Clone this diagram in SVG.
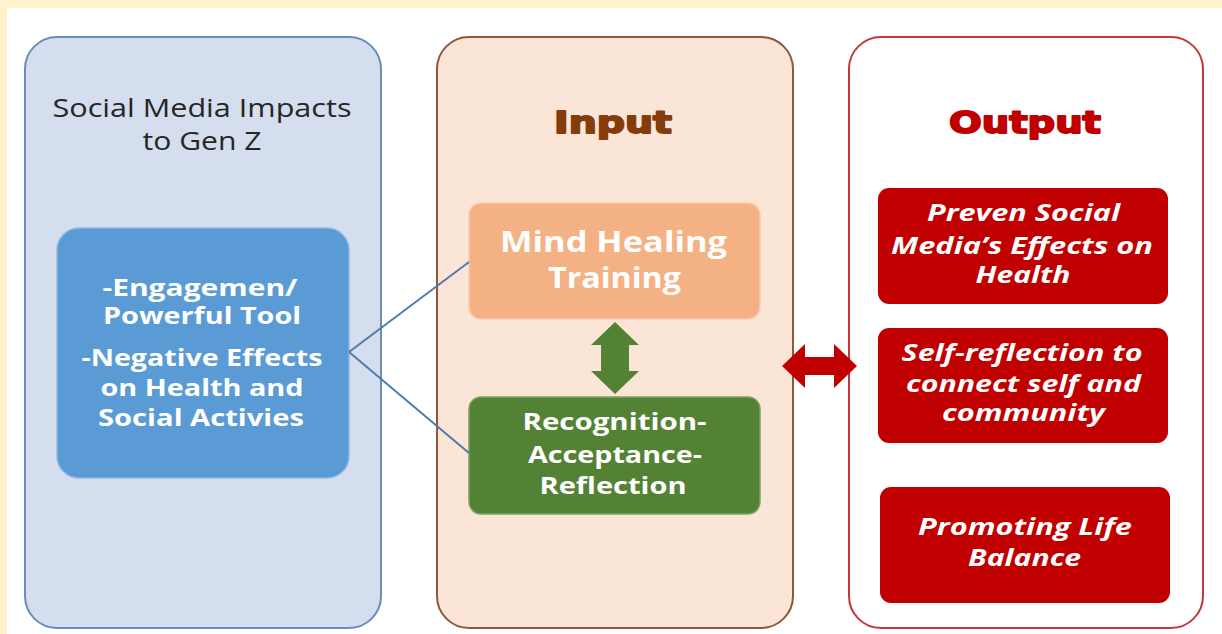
<svg xmlns="http://www.w3.org/2000/svg" width="1222" height="634" viewBox="0 0 1222 634">
  <style>
    .panel { stroke-width: 2; }
    text { text-anchor: middle; }
    .title { font-family: "Open Sans", "Liberation Sans", sans-serif; font-size: 25px; fill: #262626; }
    .head { font-family: "DejaVu Sans", "Liberation Sans", sans-serif; font-weight: bold; font-size: 30px; stroke-width: 1.8; stroke-linejoin: round; }
    .wt { font-family: "Open Sans", "Liberation Sans", sans-serif; font-weight: bold; fill: #ffffff; }
    .wi { font-family: "Open Sans", "Liberation Sans", sans-serif; font-weight: bold; font-style: italic; font-size: 23px; fill: #ffffff; }
    .link { fill: none; stroke: #4d7cb0; stroke-width: 2; }
  </style>

  <!-- page background with cream margin -->
  <rect x="0" y="0" width="1222" height="634" fill="#fff2cc"/>
  <rect x="7" y="8" width="1215" height="626" fill="#ffffff"/>

  <!-- left panel: impacts -->
  <g id="impacts">
    <rect class="panel" x="25" y="37" width="356" height="591" rx="32" fill="#d5deee" stroke="#6a8cbd"/>
    <text class="title" x="202" y="117" textLength="299" lengthAdjust="spacingAndGlyphs">Social Media Impacts</text>
    <text class="title" x="202" y="150" textLength="119" lengthAdjust="spacingAndGlyphs">to Gen Z</text>
    <g id="impacts-list">
      <rect x="57" y="228" width="292" height="250" rx="22" fill="#5b9bd5" stroke="#8fb8e0" stroke-width="1.5"/>
      <text class="wt" font-size="23" x="200" y="296" textLength="195" lengthAdjust="spacingAndGlyphs">-Engagemen/</text>
      <text class="wt" font-size="23" x="202" y="324" textLength="198" lengthAdjust="spacingAndGlyphs">Powerful Tool</text>
      <text class="wt" font-size="23" x="202" y="366" textLength="241" lengthAdjust="spacingAndGlyphs">-Negative Effects</text>
      <text class="wt" font-size="23" x="202" y="396" textLength="203" lengthAdjust="spacingAndGlyphs">on Health and</text>
      <text class="wt" font-size="23" x="201" y="426" textLength="206" lengthAdjust="spacingAndGlyphs">Social Activies</text>
    </g>
  </g>

  <!-- middle panel: input -->
  <g id="input">
    <rect class="panel" x="437" y="37" width="356" height="591" rx="32" fill="#fbe5d6" stroke="#8a5a3a"/>
    <text class="head" x="613" y="133" fill="#843c0c" stroke="#843c0c" textLength="118" lengthAdjust="spacingAndGlyphs">Input</text>
  </g>

  <g id="mind-healing">
    <rect x="469" y="203" width="291" height="116" rx="12" fill="#f4b183" stroke="#f8cdb0" stroke-width="1.5"/>
    <text class="wt" font-size="28" x="613.5" y="252" textLength="227" lengthAdjust="spacingAndGlyphs">Mind Healing</text>
    <text class="wt" font-size="28" x="614.5" y="288" textLength="133" lengthAdjust="spacingAndGlyphs">Training</text>
  </g>

  <g id="recognition">
    <rect x="469" y="397" width="291" height="117" rx="12" fill="#548235" stroke="#7ea266" stroke-width="1.5"/>
    <text class="wt" font-size="23" x="614.5" y="430" textLength="184" lengthAdjust="spacingAndGlyphs">Recognition-</text>
    <text class="wt" font-size="23" x="615" y="463" textLength="174" lengthAdjust="spacingAndGlyphs">Acceptance-</text>
    <text class="wt" font-size="23" x="613" y="494" textLength="147" lengthAdjust="spacingAndGlyphs">Reflection</text>
  </g>

  <!-- right panel: output -->
  <g id="output">
    <rect class="panel" x="849" y="37" width="354" height="591" rx="32" fill="#ffffff" stroke="#c0393b"/>
    <text class="head" x="1025" y="133" fill="#c00000" stroke="#c00000" textLength="152" lengthAdjust="spacingAndGlyphs">Output</text>
  </g>

  <g id="prevent">
    <rect x="878" y="188" width="290" height="116" rx="11" fill="#c00000"/>
    <text class="wi" x="1023.5" y="221" textLength="193" lengthAdjust="spacingAndGlyphs">Preven Social</text>
    <text class="wi" x="1022" y="254" textLength="262" lengthAdjust="spacingAndGlyphs">Media’s Effects on</text>
    <text class="wi" x="1023" y="283" textLength="95" lengthAdjust="spacingAndGlyphs">Health</text>
  </g>

  <g id="self-reflection">
    <rect x="878" y="328" width="290" height="115" rx="11" fill="#c00000"/>
    <text class="wi" x="1022" y="361" textLength="241" lengthAdjust="spacingAndGlyphs">Self-reflection to</text>
    <text class="wi" x="1023.5" y="392" textLength="235" lengthAdjust="spacingAndGlyphs">connect self and</text>
    <text class="wi" x="1023.5" y="421" textLength="163" lengthAdjust="spacingAndGlyphs">community</text>
  </g>

  <g id="life-balance">
    <rect x="880" y="487" width="290" height="116" rx="11" fill="#c00000"/>
    <text class="wi" x="1025" y="535" textLength="214" lengthAdjust="spacingAndGlyphs">Promoting Life</text>
    <text class="wi" x="1024.5" y="566" textLength="113" lengthAdjust="spacingAndGlyphs">Balance</text>
  </g>

  <!-- connectors -->
  <g id="connectors">
    <path class="link" d="M349,352 L469,262"/>
    <path class="link" d="M349,352 L469,453"/>
    <!-- vertical block double arrow between the input steps -->
    <polygon fill="#548235" points="615,322 639,345 629,345 629,371 639,371 615,394 591,371 601,371 601,345 591,345"/>
    <!-- horizontal block double arrow between input and output -->
    <polygon fill="#c00000" points="782,366 805,344 805,357 834,357 834,344 857,366 834,388 834,375 805,375 805,388"/>
  </g>
</svg>
